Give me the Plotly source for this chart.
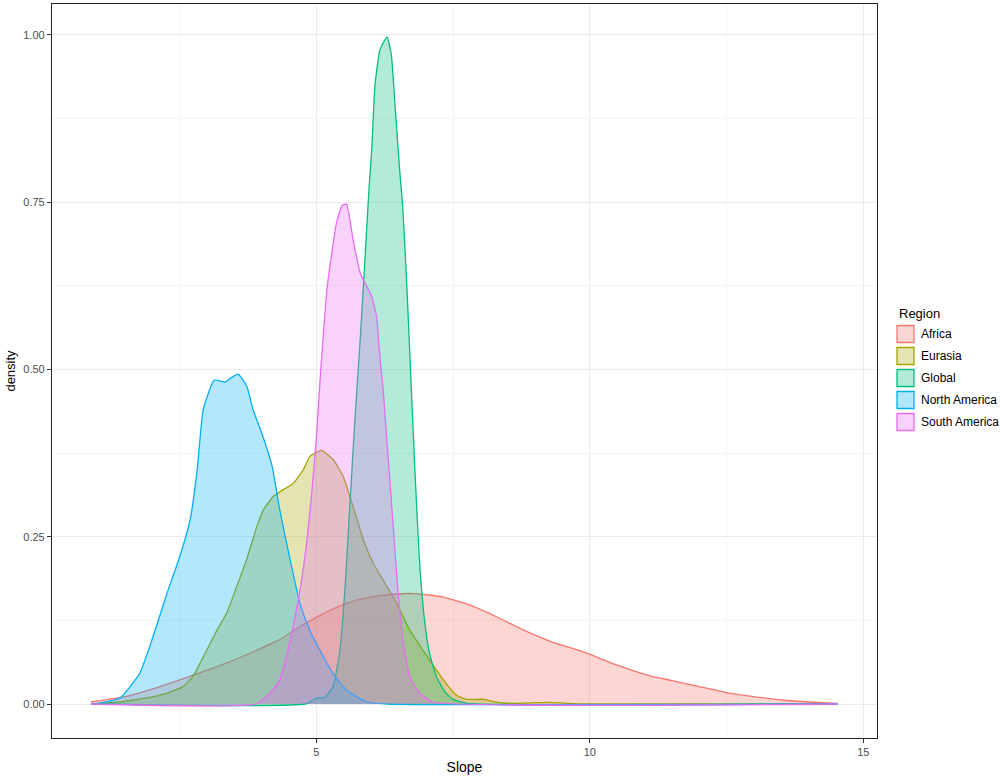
import plotly.graph_objects as go

regions = ["Africa", "Eurasia", "Global", "North America", "South America"]
line_colors = ["#F8766D", "#A3A500", "#00BF7D", "#00B0F6", "#E76BF3"]
fill_colors = ["rgba(248,118,109,0.3)", "rgba(163,165,0,0.3)", "rgba(0,191,125,0.3)",
               "rgba(0,176,246,0.3)", "rgba(231,107,243,0.3)"]

africa_x = [0.88, 1.5, 2.1, 2.75, 3.35, 3.9, 4.3, 4.75, 5.2, 5.6, 6.0, 6.4, 6.8, 7.3, 7.8, 8.3,
            8.8, 9.3, 9.8, 10.0, 10.5, 11.1, 11.5, 12.0, 12.5, 13.0, 13.5, 14.0, 14.53]
africa_y = [0.003, 0.011, 0.025, 0.043, 0.061, 0.080, 0.095, 0.118, 0.138, 0.152, 0.160, 0.164,
            0.165, 0.160, 0.148, 0.130, 0.110, 0.093, 0.080, 0.074, 0.058, 0.042, 0.035, 0.026,
            0.017, 0.011, 0.006, 0.003, 0.001]

eurasia_x = [0.88, 1.4, 1.9, 2.26, 2.56, 2.74, 2.93, 3.18, 3.36, 3.54, 3.72, 3.91, 4.03, 4.21,
             4.39, 4.58, 4.76, 4.88, 5.09, 5.31, 5.49, 5.67, 5.86, 6.04, 6.22, 6.47, 6.71, 6.95,
             7.2, 7.32, 7.56, 7.75, 8.05, 8.35, 8.66, 9.0, 9.27, 9.6, 10.0, 14.53]
eurasia_y = [0.0, 0.003, 0.009, 0.016, 0.026, 0.041, 0.070, 0.110, 0.136, 0.175, 0.215, 0.265,
             0.290, 0.310, 0.320, 0.330, 0.350, 0.370, 0.379, 0.365, 0.340, 0.295, 0.245, 0.210,
             0.185, 0.150, 0.110, 0.080, 0.050, 0.036, 0.013, 0.007, 0.007, 0.002, 0.001, 0.002,
             0.0025, 0.001, 0.0, 0.0]

global_x = [0.88, 4.8, 5.0, 5.15, 5.3, 5.43, 5.52, 5.61, 5.70, 5.80, 5.89, 5.96, 6.01, 6.07,
            6.16, 6.29, 6.37, 6.45, 6.52, 6.58, 6.65, 6.72, 6.80, 6.88, 6.97, 7.07, 7.2, 7.35,
            7.5, 7.75, 14.53]
global_y = [0.0, 0.0, 0.009, 0.010, 0.025, 0.080, 0.170, 0.295, 0.420, 0.544, 0.668, 0.768,
            0.826, 0.924, 0.977, 0.997, 0.970, 0.880, 0.800, 0.740, 0.630, 0.500, 0.350, 0.220,
            0.130, 0.075, 0.040, 0.018, 0.007, 0.001, 0.0]

namerica_x = [0.88, 1.0, 1.41, 1.77, 2.01, 2.27, 2.50, 2.69, 2.82, 2.93, 3.13, 3.33, 3.45, 3.57,
              3.73, 3.84, 4.02, 4.19, 4.33, 4.52, 4.70, 4.88, 5.06, 5.30, 5.55, 5.92, 6.3, 14.53]
namerica_y = [0.0, 0.001, 0.009, 0.046, 0.100, 0.166, 0.220, 0.275, 0.350, 0.440, 0.484, 0.481,
              0.488, 0.493, 0.474, 0.440, 0.400, 0.355, 0.290, 0.215, 0.150, 0.110, 0.081, 0.046,
              0.021, 0.003, 0.0, 0.0]

samerica_x = [0.88, 3.9, 4.15, 4.33, 4.45, 4.57, 4.70, 4.82, 4.92, 5.0, 5.08, 5.2, 5.37, 5.47,
              5.55, 5.67, 5.80, 5.92, 6.01, 6.10, 6.16, 6.22, 6.31, 6.40, 6.49, 6.58, 6.71, 6.89,
              7.13, 14.53]
samerica_y = [0.0, 0.0, 0.016, 0.036, 0.070, 0.115, 0.170, 0.240, 0.320, 0.400, 0.500, 0.625,
              0.720, 0.745, 0.747, 0.694, 0.644, 0.624, 0.609, 0.579, 0.519, 0.469, 0.370, 0.270,
              0.170, 0.096, 0.040, 0.016, 0.003, 0.0]

x_ticks = [5, 10, 15]
y_ticks = [0.0, 0.25, 0.5, 0.75, 1.0]
y_tick_labels = ["0.00", "0.25", "0.50", "0.75", "1.00"]

series_x = [africa_x, eurasia_x, global_x, namerica_x, samerica_x]
series_y = [africa_y, eurasia_y, global_y, namerica_y, samerica_y]

fig = go.Figure()
for name, xs, ys, lc, fc in zip(regions, series_x, series_y, line_colors, fill_colors):
    fig.add_trace(go.Scatter(x=xs, y=ys, mode="lines", fill="tozeroy", fillcolor=fc,
                             line=dict(color=lc, width=1.3, shape="spline", smoothing=0.45),
                             name=name, showlegend=False, hoverinfo="skip"))

# Layout geometry (pixels) of the panel, used to place the hand-drawn legend
W, H = 1000, 776
ML, MR, MT, MB = 52, 123, 4, 38
PW, PH = W - ML - MR, H - MT - MB


def px_to_paper(px, py):
    return (px - ML) / PW, (H - MB - py) / PH


font_family = "Liberation Sans, Arial, Helvetica, sans-serif"

# legend: title + square keys + labels
shapes = []
annotations = []
tx, ty = px_to_paper(897, 313)
annotations.append(dict(text="Region", x=tx, y=ty, xref="paper", yref="paper",
                        xanchor="left", yanchor="middle", showarrow=False,
                        font=dict(size=13, color="black", family=font_family)))
for i, (name, lc, fc) in enumerate(zip(regions, line_colors, fill_colors)):
    cy = 334 + 22 * i
    x0, y0 = px_to_paper(897, cy + 8.5)
    x1, y1 = px_to_paper(914, cy - 8.5)
    shapes.append(dict(type="rect", xref="paper", yref="paper", x0=x0, y0=y0, x1=x1, y1=y1,
                       fillcolor=fc, line=dict(color=lc, width=1.3), layer="above"))
    lx, ly = px_to_paper(919, cy)
    annotations.append(dict(text=name, x=lx, y=ly, xref="paper", yref="paper",
                            xanchor="left", yanchor="middle", showarrow=False,
                            font=dict(size=12, color="black", family=font_family)))

fig.update_layout(
    width=W, height=H,
    margin=dict(l=ML, r=MR, t=MT, b=MB, autoexpand=False),
    paper_bgcolor="white", plot_bgcolor="white",
    font=dict(family=font_family, color="black"),
    showlegend=False,
    shapes=shapes, annotations=annotations,
)
fig.update_xaxes(range=[0.165, 15.25], tickvals=x_ticks, ticktext=[str(v) for v in x_ticks],
                 ticks="outside", ticklen=4, tickcolor="#333333",
                 tickfont=dict(size=11, color="#4D4D4D"),
                 showgrid=True, gridcolor="#EBEBEB", gridwidth=1,
                 minor=dict(tickvals=[2.5, 7.5, 12.5], showgrid=True, gridcolor="#F4F4F4", gridwidth=1, ticks=""),
                 showline=True, linecolor="#222222", linewidth=1.2, mirror=True, zeroline=False,
                 automargin=False,
                 title=dict(text="Slope", font=dict(size=14, color="black"), standoff=4))
fig.update_yaxes(range=[-0.0508, 1.046], tickvals=y_ticks, ticktext=y_tick_labels,
                 ticks="outside", ticklen=4, tickcolor="#333333",
                 tickfont=dict(size=11, color="#4D4D4D"),
                 showgrid=True, gridcolor="#EBEBEB", gridwidth=1,
                 minor=dict(tickvals=[0.125, 0.375, 0.625, 0.875], showgrid=True, gridcolor="#F4F4F4", gridwidth=1, ticks=""),
                 showline=True, linecolor="#222222", linewidth=1.2, mirror=True, zeroline=False,
                 automargin=False,
                 title=dict(text="density", font=dict(size=13, color="black"), standoff=4))

fig.write_html("out.html", config={"displayModeBar": False},
               post_script="document.body.style.margin='0';document.body.style.overflow='hidden';")
